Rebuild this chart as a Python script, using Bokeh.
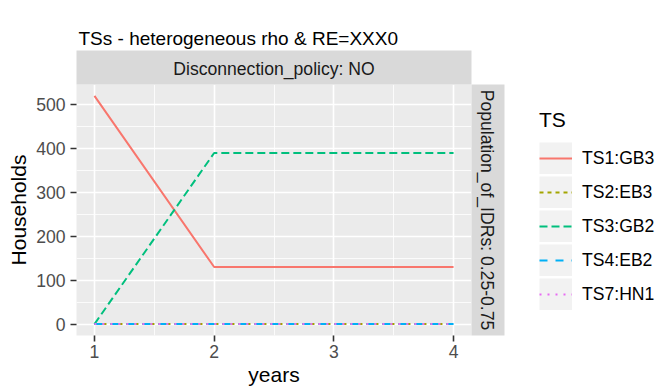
import math
from bokeh.plotting import figure
from bokeh.layouts import row
from bokeh.models import (Range1d, FixedTicker, Legend, LegendItem, LinearAxis,
                          ColumnDataSource)
from bokeh.embed import file_html
from bokeh.resources import INLINE

# ---------------- data ----------------
years = [1, 2, 3, 4]
series_names = ["TS1:GB3", "TS2:EB3", "TS3:GB2", "TS4:EB2", "TS7:HN1"]
ts1 = [520, 130, 130, 130]
ts2 = [0, 0, 0, 0]
ts3 = [0, 390, 390, 390]
ts4 = [0, 0, 0, 0]
ts7 = [0, 0, 0, 0]
series_values = [ts1, ts2, ts3, ts4, ts7]
x_ticks = [1, 2, 3, 4]
y_ticks = [0, 100, 200, 300, 400, 500]
title_text = "TSs - heterogeneous rho & RE=XXX0"
strip_top_text = "Disconnection_policy: NO"
strip_right_text = "Population_of_IDRs: 0.25-0.75"
legend_title = "TS"
x_label = "years"
y_label = "Households"

# ---------------- styles ----------------
colors = ["#F8766D", "#A3A500", "#00BF7D", "#00B0F6", "#E76BF3"]
dashes = ["solid", "4 4", "8 4", "8 8", "2 6"]
FONT = "Liberation Sans"
STRIP = "#D9D9D9"
W, H = 672, 389
MAIN_W = 505
FL, FR, FT, FB = 76, 471, 84, 335   # panel (frame) edges in canvas px

# ggplot-like expansion of 5%
xmin, xmax = min(years), max(years)
all_y = [v for s in series_values for v in s]
ymin, ymax = min(all_y), max(all_y)
xpad = 0.05 * (xmax - xmin)
ypad = 0.05 * (ymax - ymin)
x0, x1 = xmin - xpad, xmax + xpad
y0, y1 = ymin - ypad, ymax + ypad

p = figure(width=MAIN_W, height=H,
           x_range=Range1d(x0, x1), y_range=Range1d(y0, y1),
           min_border_left=FL, min_border_right=MAIN_W - FR,
           min_border_top=FT, min_border_bottom=H - FB,
           output_backend="svg", toolbar_location=None)

p.background_fill_color = "#EBEBEB"
p.border_fill_color = "white"
p.outline_line_color = None

x_minor = [(a + b) / 2 for a, b in zip(x_ticks, x_ticks[1:])]
y_minor = [(a + b) / 2 for a, b in zip(y_ticks, y_ticks[1:])]
p.xaxis.ticker = FixedTicker(ticks=x_ticks, minor_ticks=x_minor)
p.yaxis.ticker = FixedTicker(ticks=y_ticks, minor_ticks=y_minor)

for ax in (p.xaxis[0], p.yaxis[0]):
    ax.axis_line_color = None
    ax.major_tick_line_color = "#333333"
    ax.major_tick_line_width = 1.6
    ax.major_tick_in = 0
    ax.major_tick_out = 6
    ax.minor_tick_line_color = None
    ax.major_label_text_font = FONT
    ax.major_label_text_font_size = "17.6px"
    ax.major_label_text_color = "#4D4D4D"
    ax.axis_label_text_font = FONT
    ax.axis_label_text_font_size = "21px"
    ax.axis_label_text_font_style = "normal"
    ax.axis_label_text_color = "black"

p.xaxis.axis_label = x_label
p.yaxis.axis_label = y_label
p.yaxis.major_label_standoff = 5
p.yaxis.axis_label_standoff = 3
p.xaxis.major_label_standoff = 3
p.xaxis.axis_label_standoff = 2

for g in (p.xgrid[0], p.ygrid[0]):
    g.grid_line_color = "white"
    g.grid_line_width = 1.6
    g.minor_grid_line_color = "white"
    g.minor_grid_line_width = 0.8

# ---------------- lines ----------------
for name, vals, c, d in zip(series_names, series_values, colors, dashes):
    p.line(years, vals, line_color=c, line_width=2, line_dash=d)


# ---------------- facet strips (axes with grey background) ----------------
def strip_axis(center, text, orientation, inner, outer_font, outer_standoff):
    return LinearAxis(ticker=FixedTicker(ticks=[center]),
                      major_label_overrides={center: text},
                      major_label_orientation=orientation,
                      axis_line_color=None, major_tick_line_color=None,
                      minor_tick_line_color=None, major_tick_in=0, major_tick_out=0,
                      minor_tick_in=0, minor_tick_out=0,
                      major_label_standoff=inner,
                      major_label_text_font=FONT, major_label_text_font_size="17.6px",
                      major_label_text_color="#1A1A1A",
                      axis_label=" ", axis_label_text_font_size=outer_font,
                      axis_label_standoff=outer_standoff,
                      background_fill_color=STRIP)


top_strip = strip_axis((x0 + x1) / 2, strip_top_text, "horizontal", 6, "2px", 0)
right_strip = strip_axis((y0 + y1) / 2, strip_right_text, "vertical", 5, "2px", 0)
p.add_layout(top_strip, "above")
p.add_layout(right_strip, "right")

# ---------------- title ----------------
p.title.text = title_text
p.title.text_font = FONT
p.title.text_font_size = "19px"
p.title.text_font_style = "normal"
p.title.text_color = "black"
p.title.align = "left"
p.title.offset = 2
p.title.standoff = 4

# ---------------- legend (separate narrow figure) ----------------
LEG_W = W - MAIN_W
lg = figure(width=LEG_W, height=H, x_range=Range1d(0, 1), y_range=Range1d(0, 1),
            min_border=0, output_backend="svg", toolbar_location=None)
lg.axis.visible = False
lg.grid.visible = False
lg.outline_line_color = None
lg.background_fill_color = "white"
lg.border_fill_color = "white"

nan = float("nan")
key_bg = lg.line(x="x", y="y", source=ColumnDataSource(data=dict(x=[nan], y=[nan])),
                 line_color="#F2F2F2", line_width=32, line_cap="butt")
items = []
for name, c, d in zip(series_names, colors, dashes):
    r = lg.line(x="x", y="y", source=ColumnDataSource(data=dict(x=[nan], y=[nan])),
                line_color=c, line_width=2, line_dash=d)
    items.append(LegendItem(label=name, renderers=[key_bg, r]))

legend = Legend(items=items, location=(34, 25), title=legend_title,
                title_text_font=FONT, title_text_font_size="21px",
                title_text_font_style="normal", title_text_color="black",
                title_standoff=10,
                label_text_font=FONT, label_text_font_size="17.6px", label_text_color="black",
                glyph_width=33, glyph_height=32, label_standoff=10, spacing=2,
                padding=0, margin=0, background_fill_alpha=0, border_line_color=None)
lg.add_layout(legend)

layout = row(p, lg, spacing=0)
open("out.html", "w").write(file_html(layout, INLINE))
